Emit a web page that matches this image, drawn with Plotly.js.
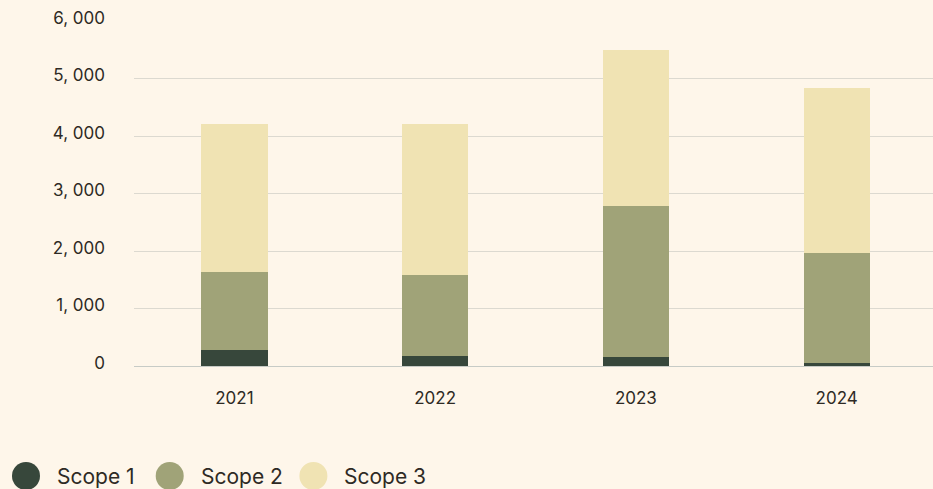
<!DOCTYPE html>
<html>
<head>
<meta charset="utf-8">
<script src="https://cdn.plot.ly/plotly-3.0.1.min.js"></script>
<style>
  html, body { margin: 0; padding: 0; background: #fef6ea; }
  #chart { width: 933px; height: 489px; }
</style>
</head>
<body>
<div id="chart"></div>
<script>
// emissions per year, stacked by scope
const years = ['2021', '2022', '2023', '2024'];
const scope1 = [278, 174, 157, 52];
const scope2 = [1358, 1410, 2628, 1915];
const scope3 = [2576, 2628, 2715, 2872];

const seriesNames = ['Scope 1', 'Scope 2', 'Scope 3'];
const seriesColors = ['#37473b', '#a0a378', '#f0e3b3'];

const yTickVals = [0, 1000, 2000, 3000, 4000, 5000, 6000];
const yTickText = ['0', '1, 000', '2, 000', '3, 000', '4, 000', '5, 000', '6, 000'];

const TEXT = '#2e2a24';
const FONT = 'Inter, "Noto Sans", sans-serif';

const seriesValues = [scope1, scope2, scope3];
const data = seriesValues.map((vals, i) => {
  return {
    type: 'bar',
    name: seriesNames[i],
    x: years,
    y: vals,
    marker: { color: seriesColors[i] },
    showlegend: false,
    hoverinfo: 'x+y+name',
  };
});

// legend drawn by hand: big dots + labels under the plot
const plotL = 134, plotW = 799, plotT = 21, plotH = 345;
const legendY = (plotT + plotH - 476) / plotH;
const legendStep = 143.7;
const shapes = [];
const annotations = [];
seriesNames.forEach((name, i) => {
  const cx = (26 + i * legendStep - plotL) / plotW;
  shapes.push({
    type: 'circle',
    xref: 'paper', yref: 'paper',
    xsizemode: 'pixel', ysizemode: 'pixel',
    xanchor: cx, yanchor: legendY,
    x0: -14, x1: 14, y0: -14, y1: 14,
    fillcolor: seriesColors[i],
    line: { width: 0 },
  });
  annotations.push({
    xref: 'paper', yref: 'paper',
    x: (55 + i * legendStep - plotL) / plotW,
    y: legendY,
    xanchor: 'left', yanchor: 'middle',
    text: name,
    showarrow: false,
    font: { family: FONT, size: 21, color: TEXT },
  });
});

const layout = {
  width: 933,
  height: 489,
  barmode: 'stack',
  bargap: 0.67,
  paper_bgcolor: '#fef6ea',
  plot_bgcolor: '#fef6ea',
  font: { family: FONT, size: 17, color: TEXT },
  margin: { l: plotL, r: 0, t: plotT, b: 489 - plotT - plotH, pad: 0 },
  showlegend: false,
  xaxis: {
    type: 'category',
    range: [-0.5, 3.48],
    showgrid: false,
    showline: false,
    zeroline: false,
    ticks: '',
    ticklabelstandoff: 20,
    tickfont: { size: 17, color: TEXT },
  },
  yaxis: {
    range: [0, 6000],
    tickvals: yTickVals,
    ticktext: yTickText,
    showgrid: true,
    gridcolor: '#dcd9d0',
    gridwidth: 1.2,
    zeroline: true,
    zerolinecolor: '#c7cbc6',
    zerolinewidth: 1.2,
    showline: false,
    ticks: '',
    ticklabelstandoff: 28,
    ticklabelshift: -3,
    tickfont: { size: 17, color: TEXT },
  },
  shapes: shapes,
  annotations: annotations,
};

Plotly.newPlot('chart', data, layout, { displayModeBar: false, responsive: false });
</script>
</body>
</html>
